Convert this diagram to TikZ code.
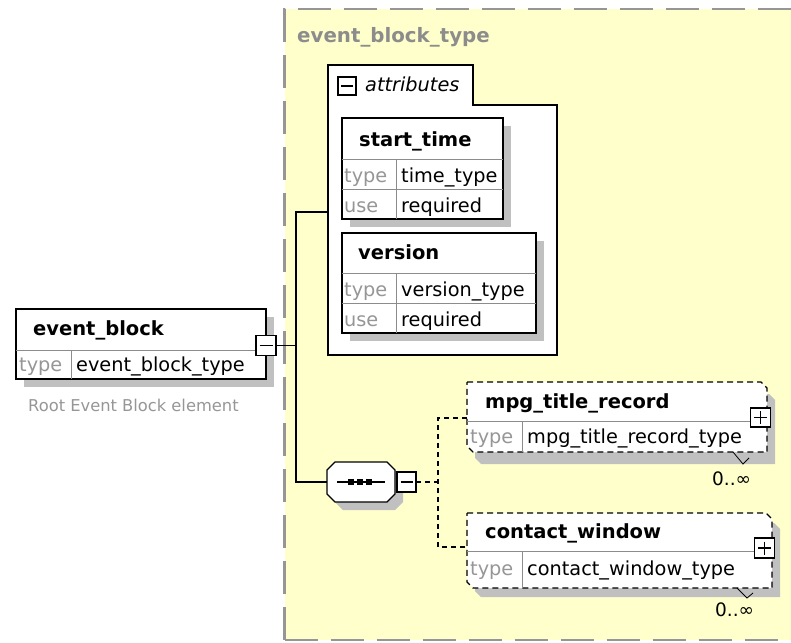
\documentclass[tikz,border=0pt]{standalone}
\usepackage{fontspec}
\setmainfont{DejaVu Sans}
\usetikzlibrary{shadows}
\definecolor{bgyellow}{RGB}{255,255,204}
\definecolor{bordergray}{RGB}{150,150,150}
\definecolor{shadowgray}{RGB}{192,192,192}
\definecolor{labelgray}{RGB}{140,140,140}
\definecolor{keygray}{RGB}{150,150,150}
\definecolor{linegray}{RGB}{140,140,140}
\begin{document}
\begin{tikzpicture}[x=1pt,y=-1pt,
  blk/.style={draw=black, line width=1.3pt, fill=white, inner sep=0pt, outer sep=0pt, anchor=north west,
    drop shadow={shadow xshift=8pt, shadow yshift=-8pt, fill=shadowgray, opacity=1}},
  innerline/.style={draw=linegray, line width=1pt},
  hdr/.style={font=\bfseries\fontsize{19.5}{23}\selectfont, anchor=base west, inner sep=0pt},
  val/.style={font=\fontsize{19.3}{23}\selectfont, anchor=base west, inner sep=0pt},
  key/.style={val, text=keygray},
  conn/.style={draw=black, line width=1.4pt},
  dconn/.style={draw=black, line width=1.4pt, dash pattern=on 5pt off 4pt},
  optbox/.style={draw=black, line width=1.3pt, fill=white, dash pattern=on 6pt off 4pt},
  sbox/.style={draw=black, line width=1.2pt, fill=white, inner sep=0pt, outer sep=0pt, minimum width=20pt, minimum height=20pt},
  region/.style={draw=bordergray, line width=2.5pt, dash pattern=on 33pt off 13pt}
]
\useasboundingbox (0,0) rectangle (791,642);

% complex type region
\fill[bgyellow] (284.5,9) rectangle (800,640);
\draw[region] (284.5,640) -- (284.5,9) -- (800,9);
\draw[region] (284.5,640) -- (800,640);
\node[hdr, text=labelgray, font=\bfseries\fontsize{19.8}{24}\selectfont] (title) at (297,43) {event\_block\_type};

% event_block element
\node[blk, minimum width=250pt, minimum height=70pt] (eb) at (16,309) {};
\draw[innerline] (16,350) -- (266,350);
\draw[innerline] (71,350) -- (71,379);
\node[hdr] (ebname) at (33,335) {event\_block};
\node[key] (ebkey) at (19,371.5) {type};
\node[val] (ebval) at (76,371.5) {event\_block\_type};
\node[val, text=keygray, font=\fontsize{16.3}{20}\selectfont] (ebdoc) at (28,411) {Root Event Block element};
\node[sbox] (ebminus) at (266,345.5) {};
\draw[line width=1.2pt] (259.5,345.5) -- (272.5,345.5);

% attributes group
\draw[line width=1.3pt, fill=white] (328,65) -- (473,65) -- (473,105) -- (557,105) -- (557,355) -- (328,355) -- cycle;
\node[sbox, minimum width=18pt, minimum height=18pt] (attrminus) at (347,86) {};
\draw[line width=1.2pt] (341,86) -- (353,86);
\node[val, font=\itshape\fontsize{19.3}{23}\selectfont] (attrlabel) at (365,91) {attributes};
\coordinate (attrW) at (328,212);

% start_time attribute
\node[blk, minimum width=161pt, minimum height=101pt] (st) at (342,118) {};
\draw[innerline] (342,159) -- (503,159);
\draw[innerline] (342,189) -- (503,189);
\draw[innerline] (396,159) -- (396,219);
\node[hdr] (stname) at (359,146) {start\_time};
\node[key] (stk1) at (344,182.5) {type};
\node[val] (stv1) at (401,182.5) {time\_type};
\node[key] (stk2) at (344,212) {use};
\node[val] (stv2) at (401,212) {required};

% version attribute
\node[blk, minimum width=194pt, minimum height=100pt] (ver) at (342,233) {};
\draw[innerline] (342,273) -- (536,273);
\draw[innerline] (342,303) -- (536,303);
\draw[innerline] (396,273) -- (396,333);
\node[hdr] (vername) at (358,259) {version};
\node[key] (verk1) at (344,296.5) {type};
\node[val] (verv1) at (401,296.5) {version\_type};
\node[key] (verk2) at (344,326.5) {use};
\node[val] (verv2) at (401,326.5) {required};

% sequence compositor
\fill[shadowgray] (343,470) -- (395,470) -- (403,478) -- (403,502) -- (395,510) -- (343,510) -- (335,502) -- (335,478) -- cycle;
\draw[line width=1.3pt, fill=white] (335,462) -- (387,462) -- (395,470) -- (395,494) -- (387,502) -- (335,502) -- (327,494) -- (327,470) -- cycle;
\coordinate (seqW) at (327,482);
\coordinate (seqE) at (395,482);
\draw[line width=1.2pt] (337,482) -- (385,482);
\foreach \dx in {351,360,369} \fill (\dx-2.8,479.2) rectangle (\dx+2.8,484.8);
\node[sbox, minimum width=19pt, minimum height=20pt] (seqminus) at (406.5,482) {};
\draw[line width=1.2pt] (400.5,482) -- (412.5,482);

% solid connectors
\coordinate (ja) at (296,212);
\coordinate (jb) at (296,482);
\draw[conn] (ebminus.east) -- (ebminus.east -| ja);
\draw[conn] (attrW) -- (ja) -- (jb) -- (seqW);

% mpg_title_record element
\fill[shadowgray] (475,394) -- (769,394) -- (775,400) -- (775,464) -- (481,464) -- (475,458) -- cycle;
\path[optbox] (467,382) -- (761,382) -- (767,388) -- (767,452) -- (473,452) -- (467,446) -- cycle;
\node[inner sep=0pt, outer sep=0pt, minimum width=300pt, minimum height=70pt, anchor=north west] (mpg) at (467,382) {};
\draw[innerline] (467,421) -- (767,421);
\draw[innerline] (522,421) -- (522,452);
\node[hdr] (mpgname) at (485,408) {mpg\_title\_record};
\node[key] (mpgk) at (470,443.5) {type};
\node[val] (mpgv) at (527,443.5) {mpg\_title\_record\_type};
\node[sbox, minimum width=20pt, minimum height=19pt] (mpgplus) at (760.5,417.5) {};
\draw[line width=1.2pt] (754,417.5) -- (767,417.5) (760.5,411) -- (760.5,424);
\draw[line width=0.8pt] (733,452) -- (743,464) -- (749,458);
\node[val, font=\fontsize{18.5}{22}\selectfont] (mpgocc) at (712,485.5) {0..∞};

% contact_window element
\fill[shadowgray] (475,523) -- (774,523) -- (780,529) -- (780,597) -- (481,597) -- (475,591) -- cycle;
\path[optbox] (467,513) -- (766,513) -- (772,519) -- (772,588) -- (473,588) -- (467,582) -- cycle;
\node[inner sep=0pt, outer sep=0pt, minimum width=305pt, minimum height=75pt, anchor=north west] (cw) at (467,513) {};
\draw[innerline] (467,551) -- (772,551);
\draw[innerline] (522,551) -- (522,588);
\node[hdr] (cwname) at (485,538) {contact\_window};
\node[key] (cwk) at (470,575) {type};
\node[val] (cwv) at (527,575) {contact\_window\_type};
\node[sbox, minimum width=20pt, minimum height=20pt] (cwplus) at (764.5,548) {};
\draw[line width=1.2pt] (758,548) -- (771,548) (764.5,541.5) -- (764.5,554.5);
\draw[line width=0.8pt] (737,588) -- (747,598) -- (753,593);
\node[val, font=\fontsize{18.5}{22}\selectfont] (cwocc) at (715,616.5) {0..∞};

% dashed connectors
\coordinate (jc) at (438,482);
\draw[dconn] (seqminus.east) -- (jc);
\draw[dconn] (mpg.west |- 0,418) -- (438,418) -- (438,547) -- (cw.west |- 0,547);
\end{tikzpicture}
\end{document}
